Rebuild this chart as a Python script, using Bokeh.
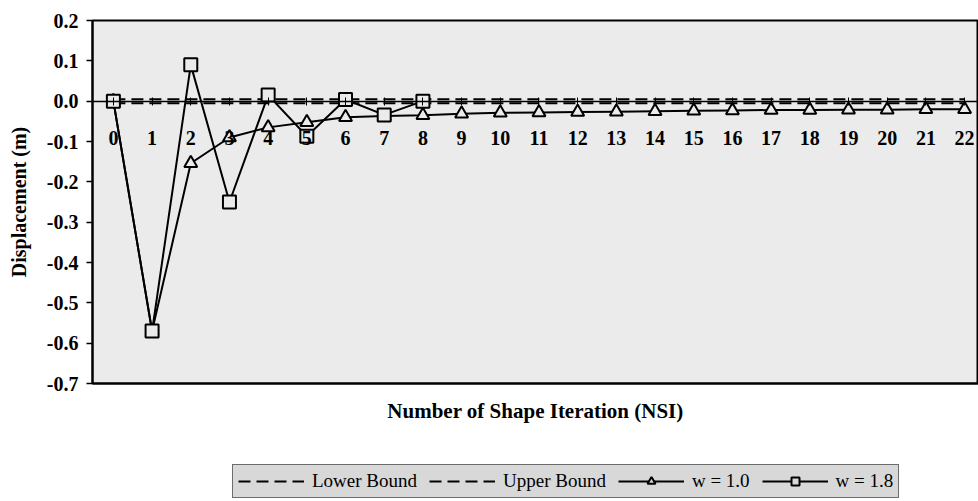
from bokeh.plotting import figure
from bokeh.layouts import column
from bokeh.models import (Range1d, LinearAxis, FixedTicker, Legend, LegendItem,
                          CustomJSTickFormatter)
from bokeh.embed import file_html
from bokeh.resources import INLINE

# ---- data ----
nsi = list(range(23))
upper_bound = [0.005] * 23
lower_bound = [-0.005] * 23
w10 = [0.0, -0.57, -0.154, -0.090, -0.065, -0.052, -0.040, -0.037, -0.035, -0.031,
       -0.029, -0.028, -0.027, -0.026, -0.025, -0.024, -0.023, -0.022, -0.022,
       -0.021, -0.021, -0.020, -0.020]
nsi18 = [0, 1, 2, 3, 4, 5, 6, 7, 8]
w18 = [0.0, -0.57, 0.09, -0.25, 0.015, -0.087, 0.004, -0.034, 0.0]
y_ticks = [0.2, 0.1, 0.0, -0.1, -0.2, -0.3, -0.4, -0.5, -0.6, -0.7]
series_names = ["Lower Bound", "Upper Bound", "w = 1.0", "w = 1.8"]

BG = "#ebebeb"
LEG = "#d8d8d8"
FONT = "Liberation Serif"

p = figure(width=978, height=440, output_backend="svg", toolbar_location=None,
           x_range=Range1d(-0.54, 22.36), y_range=Range1d(-0.7, 0.2),
           min_border_left=92, min_border_right=0, min_border_top=20,
           min_border_bottom=57)
p.background_fill_color = BG
p.border_fill_color = "white"
p.outline_line_color = "black"
p.outline_line_width = 2
p.grid.visible = False

# y axis
yax = p.yaxis[0]
yax.ticker = FixedTicker(ticks=y_ticks)
yax.formatter = CustomJSTickFormatter(code="return tick.toFixed(1);")
yax.major_label_text_font = FONT
yax.major_label_text_font_style = "bold"
yax.major_label_text_font_size = "20px"
yax.major_label_text_color = "black"
yax.major_label_standoff = 8
yax.major_tick_in = 0
yax.major_tick_out = 6
yax.minor_tick_out = 0
yax.minor_tick_in = 0
yax.axis_line_width = 2
yax.major_tick_line_width = 1.5
yax.axis_label = "Displacement (m)"
yax.axis_label_text_font = FONT
yax.axis_label_text_font_style = "bold"
yax.axis_label_text_font_size = "20px"
yax.axis_label_text_color = "black"
yax.axis_label_standoff = 14

# bottom axis: title only
xax = p.xaxis[0]
xax.ticker = FixedTicker(ticks=[])
xax.axis_label = "Number of Shape Iteration (NSI)"
xax.axis_label_text_font = FONT
xax.axis_label_text_font_style = "bold"
xax.axis_label_text_font_size = "21px"
xax.axis_label_text_color = "black"
xax.axis_label_standoff = 15
xax.major_tick_in = 0
xax.major_tick_out = 0
xax.minor_tick_in = 0
xax.minor_tick_out = 0
xax.axis_line_width = 2

# axis crossing at y = 0 with category labels
zax = LinearAxis(fixed_location=0, ticker=FixedTicker(ticks=nsi))
zax.major_label_text_font = FONT
zax.major_label_text_font_style = "bold"
zax.major_label_text_font_size = "20px"
zax.major_label_text_color = "black"
zax.major_tick_in = 4
zax.major_tick_out = 4
zax.minor_tick_in = 0
zax.minor_tick_out = 0
zax.major_label_standoff = 26
zax.axis_line_width = 1.5
p.add_layout(zax, "below")

# series
line_kw = dict(line_color="black", line_width=2)
DASH = "12 6"
p.line(nsi, lower_bound, line_dash=DASH, **line_kw)
p.line(nsi, upper_bound, line_dash=DASH, **line_kw)
p.line(nsi, w10, **line_kw)
p.scatter(nsi, w10, marker="triangle", size=13, line_color="black",
          line_width=2, fill_color=BG)
p.line(nsi18, w18, **line_kw)
p.scatter(nsi18, w18, marker="square", size=13, line_color="black",
          line_width=2, fill_color=BG)

# legend strip below the chart (its ranges keep the series out of view,
# only the legend keys are shown)
q = figure(width=978, height=61, output_backend="svg", toolbar_location=None,
           x_axis_location=None, y_axis_location=None, min_border=0,
           x_range=Range1d(1000, 1001), y_range=Range1d(1000, 1001))
q.outline_line_color = None
q.grid.visible = False
q.background_fill_color = "white"
q.border_fill_color = "white"

l_lo = q.line(nsi, lower_bound, line_dash=DASH, **line_kw)
l_up = q.line(nsi, upper_bound, line_dash=DASH, **line_kw)
l_a1 = q.line(nsi, w10, **line_kw)
l_a2 = q.scatter(nsi, w10, marker="triangle", size=16, line_color="black",
                 line_width=2, fill_color=LEG)
l_b1 = q.line(nsi18, w18, **line_kw)
l_b2 = q.scatter(nsi18, w18, marker="square", size=16, line_color="black",
                 line_width=2, fill_color=LEG)

legend = Legend(items=[
    LegendItem(label=series_names[0], renderers=[l_lo]),
    LegendItem(label=series_names[1], renderers=[l_up]),
    LegendItem(label=series_names[2], renderers=[l_a1, l_a2]),
    LegendItem(label=series_names[3], renderers=[l_b1, l_b2]),
], orientation="horizontal", location=(140, 3))
legend.label_text_font = FONT
legend.label_text_font_size = "19px"
legend.label_text_color = "black"
legend.glyph_width = 66
legend.glyph_height = 20
legend.label_standoff = 8
legend.spacing = 12
legend.padding = 5
legend.margin = 0
legend.border_line_color = "black"
legend.border_line_width = 1.5
legend.background_fill_color = LEG
legend.background_fill_alpha = 1
q.add_layout(legend, "center")

layout = column(p, q, spacing=0)
open("out.html", "w").write(file_html(layout, INLINE))
